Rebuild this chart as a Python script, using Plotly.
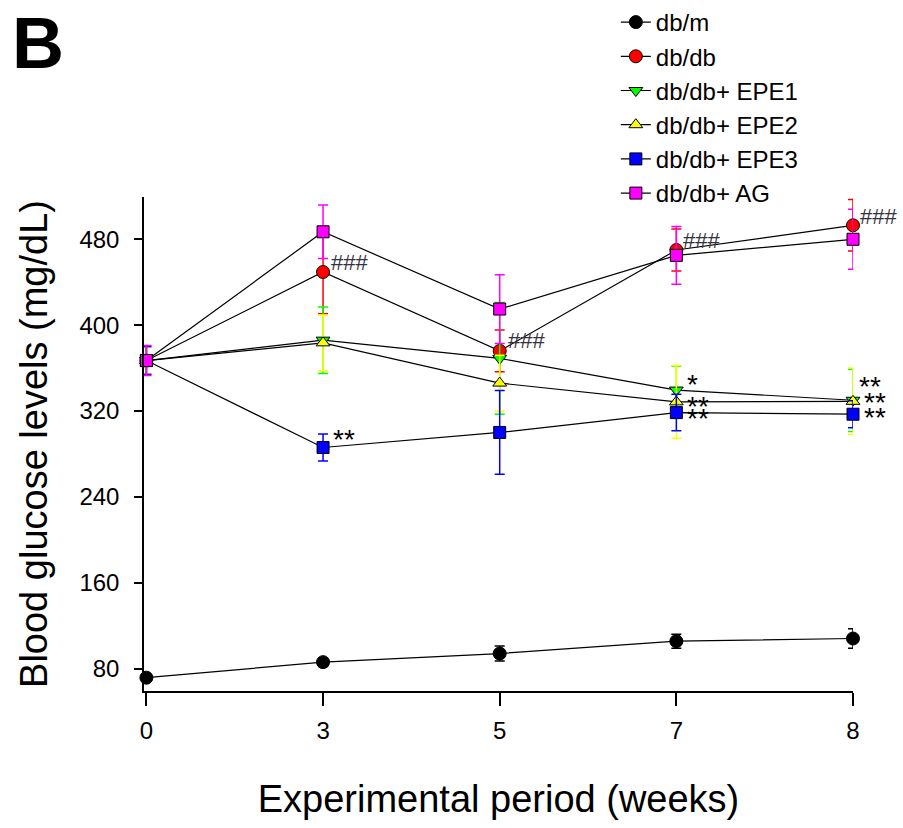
import plotly.graph_objects as go

# ---- data ----
weeks = ["0", "3", "5", "7", "8"]

series_names = ["db/m", "db/db", "db/db+ EPE1", "db/db+ EPE2", "db/db+ EPE3", "db/db+ AG"]

db_m = [71.5, 86, 94, 105.5, 108]
db_m_err = [3, 4, 7, 6.5, 9]
db_db = [367, 449.5, 376, 470, 493]
db_db_err = [13, 39, 19.5, 19.5, 24]
epe1 = [367, 386, 369, 339.5, 330]
epe1_err = [13, 31, 52, 22.5, 29]
epe2 = [367, 383.5, 346, 328.5, 329]
epe2_err = [13, 26, 26, 34, 31]
epe3 = [367, 286, 300, 318.5, 317]
epe3_err = [13, 12.5, 39, 17, 12.5]
ag = [367, 487, 415, 465, 480]
ag_err = [14, 25, 32, 27, 28]

y_ticks = [80, 160, 240, 320, 400, 480]

# significance marks: (series index, week index, label)
sig_marks = [
    (1, 1, "###"), (1, 2, "###"), (1, 3, "###"), (1, 4, "###"),
    (4, 1, "**"),
    (2, 3, "*"), (3, 3, "**"), (4, 3, "**"),
    (2, 4, "**"), (3, 4, "**"), (4, 4, "**"),
]

# ---- styles ----
values = [db_m, db_db, epe1, epe2, epe3, ag]
errors = [db_m_err, db_db_err, epe1_err, epe2_err, epe3_err, ag_err]
colors = ["#000000", "#ff0000", "#00ff00", "#ffff00", "#0000ff", "#ff00ff"]
symbols = ["circle", "circle", "triangle-down", "triangle-up", "square", "square"]
msizes = [13, 13, 12, 12, 12, 12]
# pixel offsets for significance marks, same order as sig_marks
sig_offsets = [
    (6, 10), (6, 10), (5, 10), (5, 9),
    (8, 8),
    (9, 6), (9, -5), (9, -6),
    (4, 14), (9, -1), (9, -3),
]
FONT = "Liberation Sans, Arial, sans-serif"

fig = go.Figure()
for name, v, e, c, s, ms in zip(series_names, values, errors, colors, symbols, msizes):
    fig.add_trace(go.Scatter(
        x=weeks, y=v, name=name, mode="lines+markers",
        line=dict(color="black", width=1.2),
        marker=dict(symbol=s, size=ms, color=c, line=dict(color="black", width=1)),
        error_y=dict(type="data", array=e, visible=True, color=c, thickness=1.5, width=5),
        cliponaxis=False,
    ))

annotations = []
for (si, wi, txt), (dx, dy) in zip(sig_marks, sig_offsets):
    is_hash = txt.startswith("#")
    annotations.append(dict(
        x=wi, y=values[si][wi], xref="x", yref="y", text=txt,
        showarrow=False, xanchor="left", yanchor="middle",
        xshift=dx, yshift=dy,
        font=dict(family=FONT, size=22 if is_hash else 28,
                  color="#333340" if is_hash else "black"),
    ))

annotations.append(dict(
    x=-0.1495, y=1.312, xref="paper", yref="paper", text="<b>B</b>",
    showarrow=False, xanchor="center", yanchor="middle",
    font=dict(family=FONT, size=72, color="black"),
))

fig.update_layout(
    width=903, height=828,
    margin=dict(l=144, r=50, t=197, b=137, autoexpand=False),
    paper_bgcolor="white", plot_bgcolor="white",
    font=dict(family=FONT, color="black"),
    showlegend=True,
    legend=dict(
        xref="container", yref="container", x=0.682, y=1.002,
        xanchor="left", yanchor="top",
        font=dict(family=FONT, size=24, color="black"),
        bgcolor="rgba(0,0,0,0)", tracegroupgap=0,
    ),
    annotations=annotations,
)

fig.update_xaxes(
    type="category", range=[-0.0136, 4.0],
    showline=True, linecolor="black", linewidth=1.5,
    ticks="outside", ticklen=13, tickcolor="black", tickwidth=1.5,
    tickfont=dict(family=FONT, size=24), ticklabelstandoff=4,
    showgrid=False, zeroline=False,
    title=dict(text="Experimental period (weeks)", font=dict(family=FONT, size=38), standoff=43),
)
fig.update_yaxes(
    range=[59.1, 519.4], tickvals=y_ticks,
    showline=True, linecolor="black", linewidth=1.5,
    ticks="outside", ticklen=8, tickcolor="black", tickwidth=1.5,
    tickfont=dict(family=FONT, size=24), ticklabelstandoff=10,
    showgrid=False, zeroline=False,
    title=dict(text="Blood glucose levels (mg/dL)", font=dict(family=FONT, size=38), standoff=20),
)

fig.write_html("out.html")
